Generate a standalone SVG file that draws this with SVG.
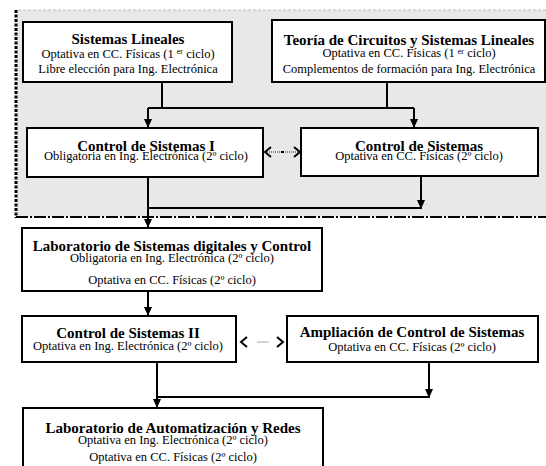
<svg xmlns="http://www.w3.org/2000/svg" width="546" height="466" viewBox="0 0 546 466">
<style>
.box{fill:#fff;stroke:#000;stroke-width:2}
.t{font-family:"Liberation Serif","Times New Roman",serif;font-weight:bold;font-size:15px;text-anchor:middle;fill:#000}
.s{font-family:"Liberation Serif","Times New Roman",serif;font-size:12.5px;text-anchor:middle;fill:#000}
.c{fill:none;stroke:#000;stroke-width:2}
.sup{font-size:8px}
</style>
<defs>
<marker id="ah" markerUnits="userSpaceOnUse" markerWidth="10" markerHeight="10" refX="9" refY="5" orient="auto">
<path d="M0,1 L9,5 L0,9 Z" fill="#000"/>
</marker>
<marker id="ch" markerUnits="userSpaceOnUse" markerWidth="10" markerHeight="12" refX="7" refY="6" orient="auto-start-reverse">
<path d="M1,1 L7,6 L1,11" fill="none" stroke="#000" stroke-width="2"/>
</marker>
</defs>
<g id="background">
<rect x="17" y="10" width="529" height="207" fill="#e8e8e8"/>
<line x1="18" y1="10" x2="546" y2="10" stroke="#bbb" stroke-width="1" stroke-dasharray="3,2"/>
<line x1="16" y1="10" x2="16" y2="218" stroke="#000" stroke-width="3" stroke-dasharray="3,1.5"/>
<line x1="16" y1="217" x2="546" y2="217" stroke="#000" stroke-width="2" stroke-dasharray="12,2,2,2"/>
</g>
<g id="connectors">
<path class="c" d="M162,82 V108 M387,82 V108 M148,108 H414"/>
<path class="c" d="M148,108 V128" marker-end="url(#ah)"/>
<path class="c" d="M414,108 V128" marker-end="url(#ah)"/>
<path class="c" d="M148,177 V228" marker-end="url(#ah)"/>
<path class="c" d="M148,208 H421"/>
<path class="c" d="M421,176 V209" marker-end="url(#ah)"/>
<path d="M265,152 H300" fill="none" stroke="#888" stroke-width="2" stroke-dasharray="1,1" marker-start="url(#ch)" marker-end="url(#ch)"/>
<rect x="281" y="151" width="3" height="2" fill="#000"/>
<path class="c" d="M148,291 V316" marker-end="url(#ah)"/>
<path class="c" d="M157,362 V408" marker-end="url(#ah)"/>
<path class="c" d="M157,397 H429"/>
<path class="c" d="M429,362 V398" marker-end="url(#ah)"/>
<path d="M241,342 H283" fill="none" stroke="#aaa" stroke-width="1" stroke-dasharray="0,16,12,14" marker-start="url(#ch)" marker-end="url(#ch)"/>
</g>
<g id="n1">
<rect class="box" x="23" y="22" width="209" height="60"/>
<text class="t" x="128" y="44">Sistemas Lineales</text>
<text class="s" x="128" y="58">Optativa en CC. Físicas (1 <tspan class="sup" dy="-4">er</tspan><tspan dy="4"> ciclo)</tspan></text>
<text class="s" x="128" y="73">Libre elección para  Ing. Electrónica</text>
</g>
<g id="n2">
<rect class="box" x="272" y="20" width="273" height="62"/>
<text class="t" x="409" y="45">Teoría de Circuitos y Sistemas Lineales</text>
<text class="s" x="409" y="57">Optativa en CC. Físicas (1 <tspan class="sup" dy="-3">er</tspan><tspan dy="3"> ciclo)</tspan></text>
<text class="s" x="409" y="73">Complementos de formación para Ing. Electrónica</text>
</g>
<g id="n3">
<rect class="box" x="27" y="128" width="236" height="49"/>
<text class="t" x="146" y="151">Control de Sistemas I</text>
<text class="s" x="146" y="160">Obligatoria en Ing. Electrónica (2º ciclo)</text>
</g>
<g id="n4">
<rect class="box" x="301" y="128" width="237" height="48"/>
<text class="t" x="419" y="151">Control de Sistemas</text>
<text class="s" x="419" y="160">Optativa en CC. Físicas (2º ciclo)</text>
</g>
<g id="n5">
<rect class="box" x="22" y="228" width="300" height="63"/>
<text class="t" x="172" y="251">Laboratorio de Sistemas digitales y Control</text>
<text class="s" x="172" y="262">Obligatoria en Ing. Electrónica (2º ciclo)</text>
<text class="s" x="172" y="284">Optativa en CC. Físicas (2º ciclo)</text>
</g>
<g id="n6">
<rect class="box" x="22" y="316" width="214" height="46"/>
<text class="t" x="128" y="338">Control de Sistemas II</text>
<text class="s" x="128" y="350">Optativa en Ing. Electrónica (2º ciclo)</text>
</g>
<g id="n7">
<rect class="box" x="287" y="316" width="251" height="46"/>
<text class="t" x="412" y="337">Ampliación de Control de Sistemas</text>
<text class="s" x="412" y="351">Optativa en CC. Físicas (2º ciclo)</text>
</g>
<g id="n8">
<rect class="box" x="23" y="408" width="300" height="70"/>
<text class="t" x="173" y="433">Laboratorio de Automatización y Redes</text>
<text class="s" x="173" y="444">Optativa en Ing. Electrónica (2º ciclo)</text>
<text class="s" x="173" y="461">Optativa en CC. Físicas (2º ciclo)</text>
</g>
</svg>
